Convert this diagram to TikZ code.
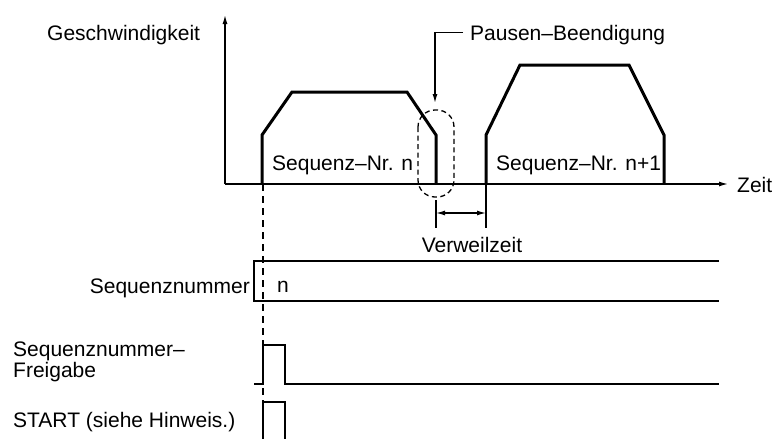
\documentclass[tikz,border=0pt]{standalone}
\usepackage{fontspec}
\setmainfont{Liberation Sans}
\usetikzlibrary{arrows.meta}

\begin{document}
\begin{tikzpicture}[x=1pt, y=-1pt, >={Latex[length=9pt,width=5pt]},
  every node/.style={inner sep=0pt, font=\fontsize{21}{21}\selectfont},
  axisline/.style={line width=1.3pt},
  profile/.style={line width=3pt},
  signal/.style={line width=2.6pt},
  marker/.style={line width=2pt, dash pattern=on 7pt off 5pt},
  pausering/.style={line width=1.3pt, dash pattern=on 5pt off 3.5pt}]
  \useasboundingbox (0,0) rectangle (780,439);
  % axes
  \coordinate (o) at (225,184);
  \coordinate (ytop) at (225,15);
  \coordinate (xend) at (728,184);
  \draw[axisline,->] (o) -- (ytop);
  \draw[axisline,->] (o) -- (xend);
  \node[anchor=base west] (speed) at (47,41) {Geschwindigkeit};
  \node[anchor=base west] (time) at (737,192) {Zeit};
  % speed profiles
  \draw[profile] (262,184) -- (262,135) -- (292,92) -- (407,92) -- (436,135) -- (436,184);
  \draw[profile] (486,184) -- (486,135) -- (520,65) -- (629,65) -- (664,135) -- (664,184);
  \node[anchor=base west] (seqa) at (272,170) {Sequenz–Nr. n};
  \node[anchor=base west] (seqb) at (496,170) {Sequenz–Nr. n+1};
  % pause end
  \draw[pausering, rounded corners=17pt] (418,110) rectangle (454,197);
  \node[anchor=base west] (pause) at (470,40) {Pausen–Beendigung};
  \coordinate (ptip) at (435,103);
  \draw[axisline,->] ([xshift=-7pt,yshift=2pt]pause.west) -| (ptip);
  % dwell time
  \coordinate (d1) at (436,213);
  \coordinate (d2) at (486,213);
  \draw[axisline] (436,200) -- (436,228);
  \draw[axisline] (486,184) -- (486,228);
  \draw[axisline,<->] (d1) -- (d2);
  \node[anchor=base] (dwell) at (472,252) {Verweilzeit};
  % start marker
  \draw[marker] (263,184) -- (263,402);
  % sequence number
  \draw[axisline] (719,261) -- (254,261) -- (254,301) -- (719,301);
  \node[anchor=base east] (seqnum) at (250,293) {Sequenznummer};
  \node[anchor=base west] (nval) at (277,292) {n};
  % enable and start signals
  \draw[signal] (254,384) -- (263,384) -- (263,345) -- (285,345) -- (285,384) -- (719,384);
  \node[anchor=base west, align=left] (enable) at (13,377) {Sequenznummer–\\Freigabe};
  \draw[signal] (263,439) -- (263,402) -- (285,402) -- (285,439);
  \node[anchor=base west] (start) at (13,427) {START (siehe Hinweis.)};
\end{tikzpicture}
\end{document}
